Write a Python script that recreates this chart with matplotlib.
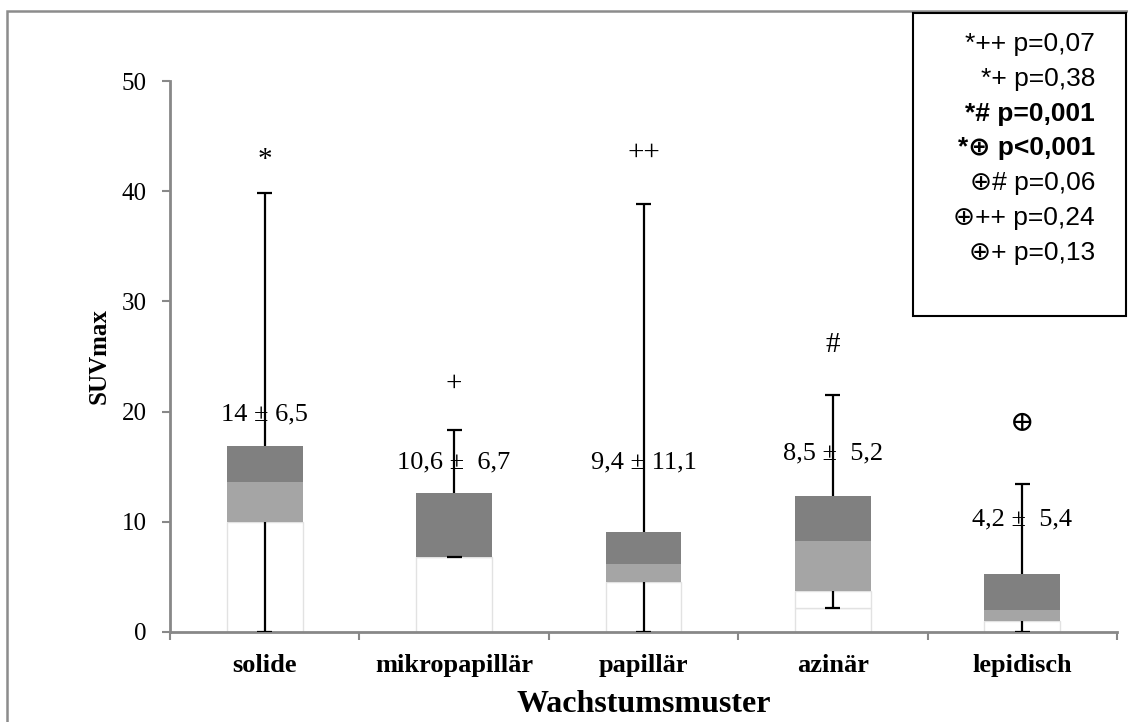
import numpy as np
import matplotlib
matplotlib.use("Agg")
import matplotlib.pyplot as plt
from matplotlib.patches import Rectangle

# Box-plot-Werte (aus Excel gestapelte Balken)
kategorien = ["solide", "mikropapillär", "papillär", "azinär", "lepidisch"]
minimum = [0.0, 6.8, 0.0, 2.2, 0.0]
q1 = [10.0, 6.8, 4.5, 3.7, 1.0]
median = [13.6, 6.8, 6.2, 8.3, 2.0]
q3 = [16.9, 12.6, 9.1, 12.3, 5.3]
maximum = [39.8, 18.3, 38.8, 21.5, 13.4]

mw_text = ["14 ± 6,5", "10,6 ±  6,7", "9,4 ± 11,1", "8,5 ±  5,2", "4,2 ±  5,4"]
mw_y = [19.7, 15.4, 15.4, 16.2, 10.2]
symbole = ["*", "+", "++", "#", "⊕"]
symbol_y = [42.8, 22.5, 43.5, 26.0, 18.9]

legende = ["*++ p=0,07", "*+ p=0,38", "*# p=0,001", "*⊕ p<0,001",
           "⊕# p=0,06", "⊕++ p=0,24", "⊕+ p=0,13"]
legende_fett = [False, False, True, True, False, False, False]

serif = ["Liberation Serif", "DejaVu Serif"]
sans = ["Liberation Sans", "DejaVu Sans"]

fig = plt.figure(figsize=(11.28, 7.22), dpi=100)
ax = fig.add_axes([170 / 1128, 90 / 722, 947 / 1128, 551 / 722])

x = np.arange(len(kategorien))
mn = np.array(minimum)
a = np.array(q1)
m = np.array(median)
b = np.array(q3)
mx = np.array(maximum)
w = 0.4

ax.bar(x, mn, w, color="white", edgecolor="#e2e2e2", linewidth=1)
ax.bar(x, a - mn, w, bottom=mn, color="white", edgecolor="#e2e2e2", linewidth=1)
ax.bar(x, m - a, w, bottom=a, color="#a5a5a5", linewidth=0)
ax.bar(x, b - m, w, bottom=m, color="#808080", linewidth=0)

# Whisker mit Kappen nur an den Enden
ax.vlines(x, mn, a, color="black", linewidth=1.6, zorder=3)
ax.vlines(x, b, mx, color="black", linewidth=1.6, zorder=3)
ax.hlines(mn, x - 0.04, x + 0.04, color="black", linewidth=1.6, zorder=3)
ax.hlines(mx, x - 0.04, x + 0.04, color="black", linewidth=1.6, zorder=3)

for i in range(len(kategorien)):
    ax.text(x[i], mw_y[i], mw_text[i], ha="center", va="center",
            fontsize=19, family=serif, zorder=4)
    ax.text(x[i], symbol_y[i], symbole[i], ha="center", va="center",
            fontsize=21, family=serif)

ax.set_xlim(-0.5, 4.5)
ax.set_ylim(0, 50)
ax.set_yticks([0, 10, 20, 30, 40, 50])
ax.set_xticks(x)
ax.set_xticklabels(kategorien, fontsize=19, fontweight="bold", family=serif)
ax.set_xticks(np.arange(-0.5, 5, 1), minor=True)
ax.tick_params(axis="x", which="major", length=0, pad=16)
ax.tick_params(axis="x", which="minor", length=6, color="#888888", width=1.5)
ax.tick_params(axis="y", length=6, color="#888888", width=1.5, pad=11, labelsize=18)
for t in ax.get_yticklabels():
    t.set_family(serif)

for s in ["top", "right"]:
    ax.spines[s].set_visible(False)
for s in ["left", "bottom"]:
    ax.spines[s].set_color("#888888")
    ax.spines[s].set_linewidth(2)

ax.set_ylabel("SUVmax", fontsize=18, fontweight="bold", family=serif, labelpad=8)
ax.set_xlabel("Wachstumsmuster", fontsize=23, fontweight="bold", family=serif, labelpad=9)

# Rahmen des Diagramms
fig.patches.append(Rectangle((7 / 1128, -0.1), 1.2, 0.1 + 711 / 722, transform=fig.transFigure,
                             fill=False, edgecolor="#8c8c8c", linewidth=1.8))

# Legendenkasten
fig.patches.append(Rectangle((913 / 1128, 1 - 316 / 722), 213 / 1128, 303 / 722,
                             transform=fig.transFigure, facecolor="white",
                             edgecolor="black", linewidth=1.5, zorder=5))
for i, txt in enumerate(legende):
    fig.text(1095 / 1128, 1 - (44 + i * 34.8) / 722, txt, ha="right", va="center",
             fontsize=19, family=sans, fontweight="bold" if legende_fett[i] else "normal",
             zorder=6)

fig.savefig("out.png", dpi=100)
